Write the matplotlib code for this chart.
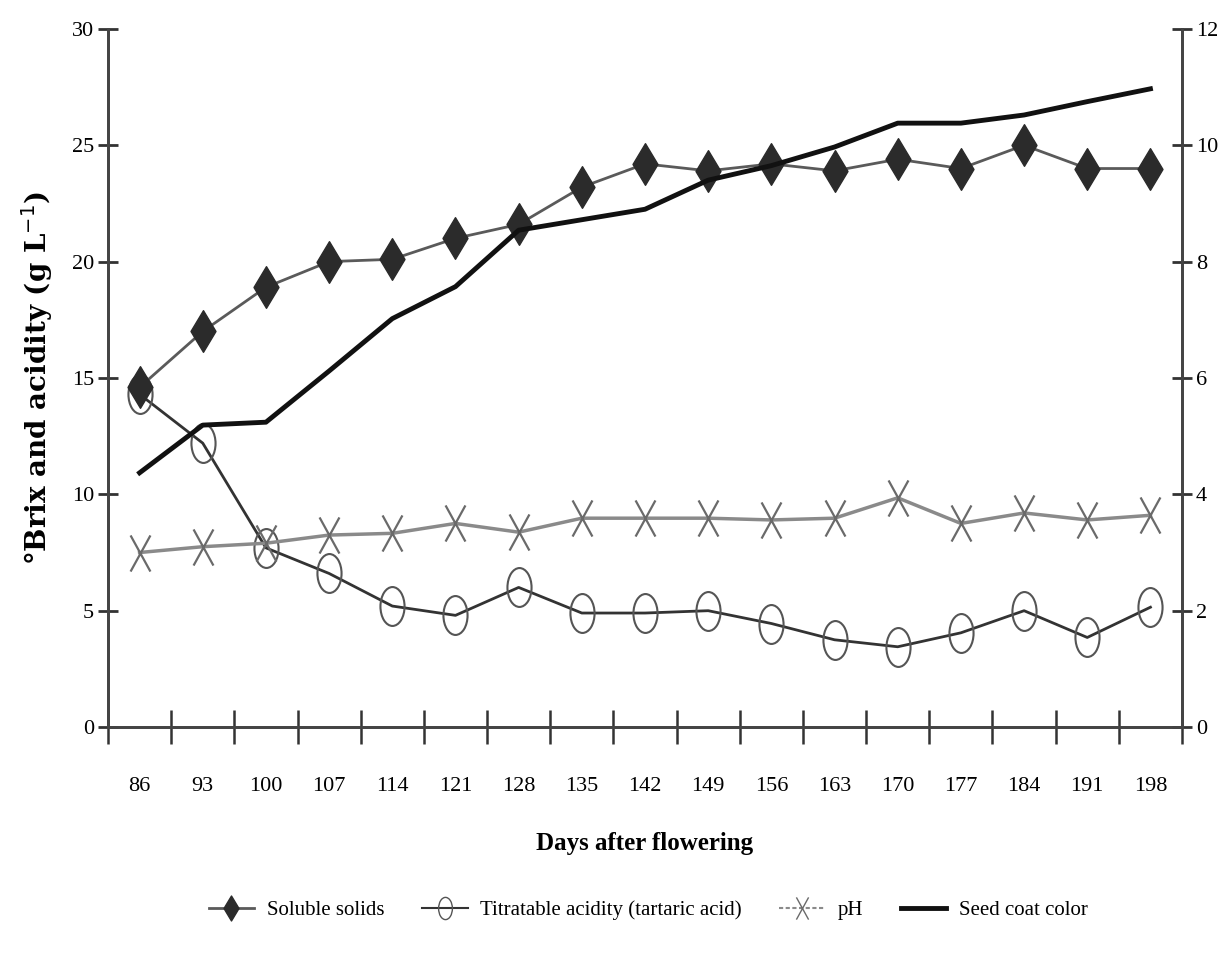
import numpy as np
import matplotlib
matplotlib.use("Agg")
import matplotlib.pyplot as plt
from matplotlib.path import Path
from matplotlib.lines import Line2D

# Data
days = [86, 93, 100, 107, 114, 121, 128, 135, 142, 149, 156, 163, 170, 177, 184, 191, 198]
soluble_solids = [14.6, 17.0, 18.9, 20.0, 20.1, 21.0, 21.6, 23.2, 24.2, 23.9, 24.2, 23.9, 24.4, 24.0, 25.0, 24.0, 24.0]
titratable_acidity = [14.3, 12.2, 7.7, 6.6, 5.2, 4.8, 6.0, 4.9, 4.9, 5.0, 4.45, 3.75, 3.45, 4.05, 5.0, 3.85, 5.15]
ph = [3.0, 3.1, 3.16, 3.3, 3.33, 3.5, 3.35, 3.59, 3.59, 3.59, 3.56, 3.59, 3.94, 3.5, 3.68, 3.56, 3.64]
seed_coat = [4.37, 5.19, 5.24, 6.12, 7.02, 7.57, 8.54, 8.72, 8.9, 9.4, 9.65, 9.97, 10.38, 10.38, 10.52, 10.75, 10.97]

plt.rcParams['font.family'] = ['Liberation Serif', 'DejaVu Serif']

# tall markers (the source image is stretched vertically)
ellipse = Path.unit_circle().transformed(matplotlib.transforms.Affine2D().scale(0.62, 1.0))
tall_x = Path([(-0.55, -1), (0.55, 1), (-0.55, 1), (0.55, -1)],
              [Path.MOVETO, Path.LINETO, Path.MOVETO, Path.LINETO])
diamond = Path([(0, 1), (0.6, 0), (0, -1), (-0.6, 0), (0, 1)],
               [Path.MOVETO, Path.LINETO, Path.LINETO, Path.LINETO, Path.CLOSEPOLY])

fig = plt.figure(figsize=(12.23, 9.63), dpi=100)
ax = fig.add_axes([0.0883, 0.245, 0.8782, 0.725])
ax2 = ax.twinx()

x = np.arange(len(days))

ax.plot(x, soluble_solids, color='#5a5a5a', lw=2, marker=diamond, markersize=30,
        markerfacecolor='#2b2b2b', markeredgecolor='#2b2b2b', zorder=4)
ax.plot(x, titratable_acidity, color='#333333', lw=2, marker=ellipse, markersize=28,
        markerfacecolor='none', markeredgecolor='#555555', markeredgewidth=1.5, zorder=3)
ax2.plot(x, ph, color='#8a8a8a', lw=2.5, marker=tall_x, markersize=26,
         markeredgecolor='#6a6a6a', markeredgewidth=1.6)
ax2.plot(x, seed_coat, color='#111111', lw=3.5)

ax.set_xlim(-0.5, len(days) - 0.5)
ax.set_ylim(0, 30)
ax2.set_ylim(0, 12)
ax.set_yticks(range(0, 31, 5))
ax2.set_yticks(range(0, 13, 2))

ax.set_xticks(x)
ax.set_xticklabels([str(d) for d in days], fontsize=16)
ax.set_xticks(np.arange(-0.5, len(days), 1), minor=True)
ax.tick_params(axis='x', which='major', length=0, pad=36)
ax.tick_params(axis='x', which='minor', length=24, direction='inout', width=1.8, color='#333333')
ax.tick_params(axis='y', length=14, direction='inout', width=2, color='#333333', labelsize=16, pad=3)
ax2.tick_params(axis='y', length=14, direction='inout', width=2, color='#333333', labelsize=16, pad=3)

for a in (ax, ax2):
    a.spines['top'].set_visible(False)
    for s in ('left', 'right', 'bottom'):
        a.spines[s].set_linewidth(2)
        a.spines[s].set_color('#444444')

ax.set_xlabel('Days after flowering', fontsize=18, fontweight='bold', labelpad=26)
ax.set_ylabel('°Brix and acidity (g L$^{-1}$)', fontsize=20, fontweight='bold',
              family='DejaVu Serif', labelpad=12)

handles = [
    Line2D([], [], color='#5a5a5a', lw=2, marker=diamond, markersize=18,
           markerfacecolor='#2b2b2b', markeredgecolor='#2b2b2b'),
    Line2D([], [], color='#333333', lw=1.5, marker=ellipse, markersize=16,
           markerfacecolor='none', markeredgecolor='#555555'),
    Line2D([], [], color='#8a8a8a', lw=1.5, ls=(0, (2, 1.2)), marker=tall_x, markersize=16,
           markeredgecolor='#6a6a6a'),
    Line2D([], [], color='#111111', lw=3.5),
]
labels = ['Soluble solids', 'Titratable acidity (tartaric acid)', 'pH', 'Seed coat color']
fig.legend(handles, labels, loc='center', bbox_to_anchor=(0.53, 0.055), ncol=4,
           frameon=False, fontsize=15, handlelength=2.2, columnspacing=1.8, handletextpad=0.6)

fig.savefig('out.png', dpi=100)
